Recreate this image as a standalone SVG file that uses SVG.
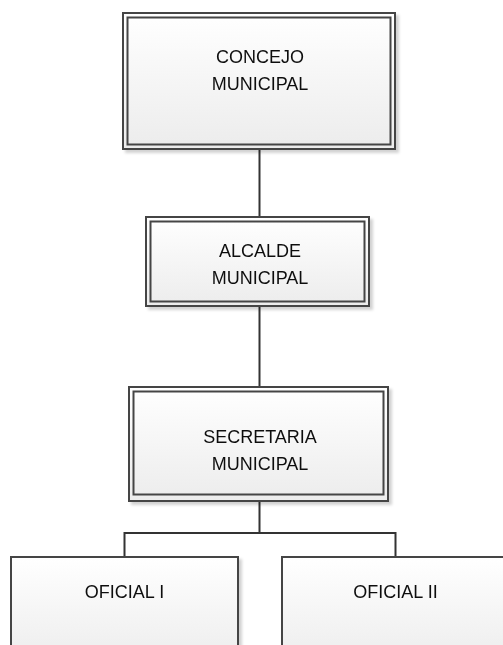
<svg xmlns="http://www.w3.org/2000/svg" width="503" height="645" viewBox="0 0 503 645">
  <style>
    .frame { fill: url(#boxFill); stroke: #454545; stroke-width: 2; }
    .inner { fill: none; stroke: #454545; stroke-width: 2; }
    .label { font-family: "Liberation Sans", Arial, sans-serif; font-size: 18px; fill: #111; text-anchor: middle; }
    .wire { fill: none; stroke: #333; stroke-width: 2; }
  </style>
  <defs>
    <linearGradient id="boxFill" x1="0" y1="0" x2="0" y2="1">
      <stop offset="0" stop-color="#ffffff"/>
      <stop offset="1" stop-color="#ececec"/>
    </linearGradient>
    <filter id="shadow" x="-5%" y="-5%" width="115%" height="115%">
      <feGaussianBlur in="SourceAlpha" stdDeviation="1.5"/>
      <feOffset dx="3" dy="3" result="b"/>
      <feComponentTransfer><feFuncA type="linear" slope="0.18"/></feComponentTransfer>
      <feMerge><feMergeNode/><feMergeNode in="SourceGraphic"/></feMerge>
    </filter>
  </defs>

  <rect width="503" height="645" fill="#ffffff"/>

  <!-- connectors -->
  <g id="connectors">
    <line class="wire" x1="259.5" y1="150" x2="259.5" y2="217"/>
    <line class="wire" x1="259.5" y1="306" x2="259.5" y2="387"/>
    <polyline class="wire" points="259.5,501 259.5,533 124.5,533 124.5,557"/>
    <polyline class="wire" points="259.5,533 395.5,533 395.5,557"/>
  </g>

  <g id="concejo" filter="url(#shadow)">
    <rect class="frame" x="123" y="13" width="272" height="136"/>
    <rect class="inner" x="127.5" y="17.5" width="263" height="127"/>
    <text class="label" x="260" y="63">CONCEJO</text>
    <text class="label" x="260" y="90">MUNICIPAL</text>
  </g>

  <g id="alcalde" filter="url(#shadow)">
    <rect class="frame" x="146" y="217" width="223" height="89"/>
    <rect class="inner" x="150.5" y="221.5" width="214" height="80"/>
    <text class="label" x="260" y="257">ALCALDE</text>
    <text class="label" x="260" y="284">MUNICIPAL</text>
  </g>

  <g id="secretaria" filter="url(#shadow)">
    <rect class="frame" x="129" y="387" width="259" height="114"/>
    <rect class="inner" x="133.5" y="391.5" width="250" height="103"/>
    <text class="label" x="260" y="443">SECRETARIA</text>
    <text class="label" x="260" y="470">MUNICIPAL</text>
  </g>

  <g id="oficial1" filter="url(#shadow)">
    <rect class="frame" x="11" y="557" width="227" height="110"/>
    <text class="label" x="124.5" y="598">OFICIAL I</text>
  </g>

  <g id="oficial2" filter="url(#shadow)">
    <rect class="frame" x="282" y="557" width="227" height="110"/>
    <text class="label" x="395.5" y="598">OFICIAL II</text>
  </g>
</svg>
